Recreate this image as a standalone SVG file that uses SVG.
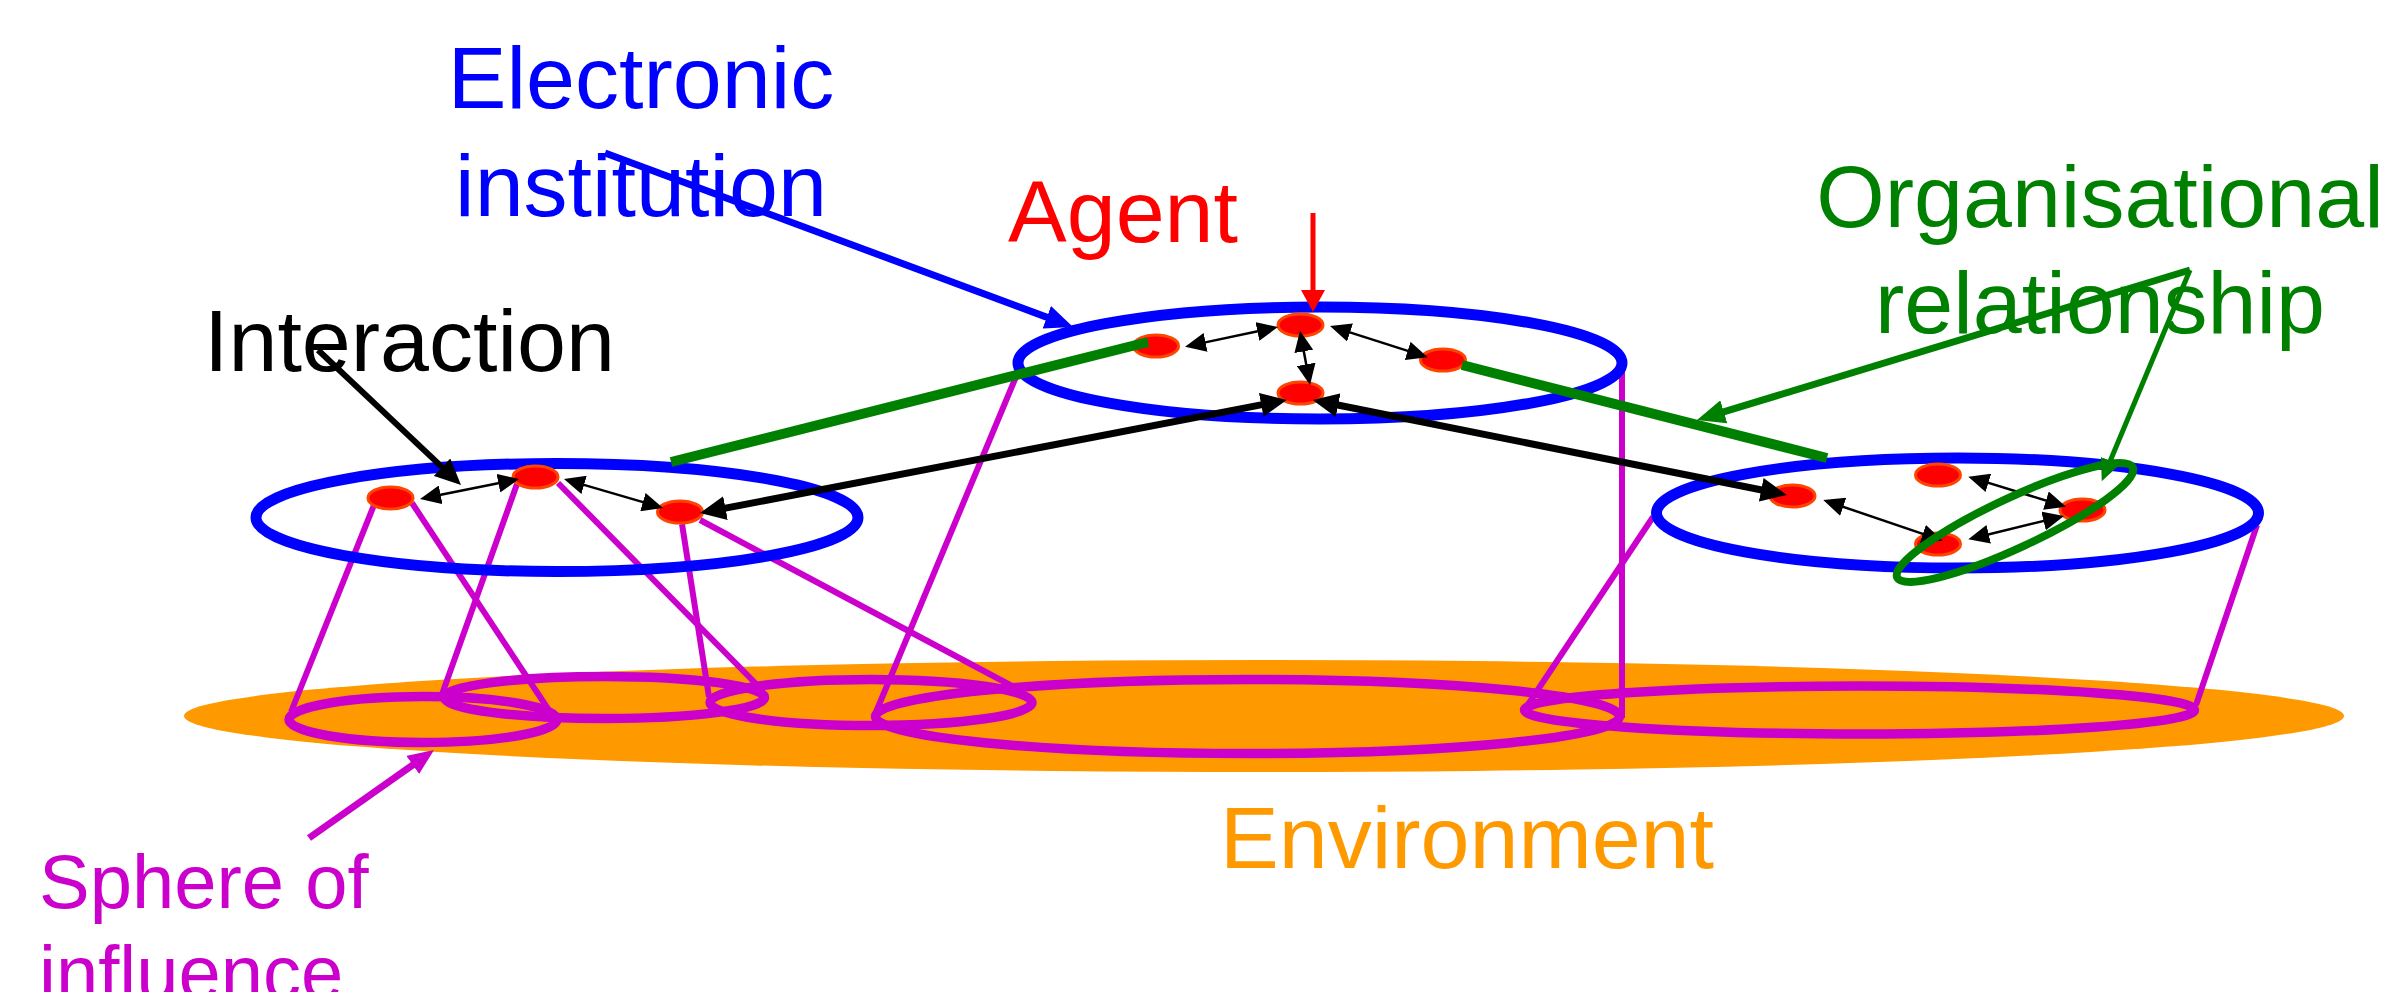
<svg xmlns="http://www.w3.org/2000/svg" width="2398" height="992" viewBox="0 0 2398 992">
  <style>
    .lbl { font-family: "Liberation Sans", Arial, sans-serif; font-size: 88px; }
    .inst { fill: none; stroke: #0000FF; stroke-width: 11; }
    .agent { fill: #FF0000; stroke: #FF4400; stroke-width: 3; }
    .sphere { fill: none; stroke: #CC00CC; stroke-width: 9.5; }
    .side { fill: none; stroke: #CC00CC; stroke-width: 6; }
    .thin { fill: none; stroke: #000; stroke-width: 2.5; marker-start: url(#ah-thin); marker-end: url(#ah-thin); }
    .thick { fill: none; stroke: #000; stroke-width: 7; marker-start: url(#ah-thick); marker-end: url(#ah-thick); }
    .org { fill: none; stroke: #008000; stroke-width: 10; }
  </style>
  <defs>
    <marker id="ah-thin" viewBox="0 0 21 19" refX="10" refY="9.5" markerWidth="21" markerHeight="19" markerUnits="userSpaceOnUse" orient="auto-start-reverse">
      <path d="M0,0 L21,9.5 L0,19 z" fill="#000"/>
    </marker>
    <marker id="ah-thick" viewBox="0 0 26 24" refX="12" refY="12" markerWidth="26" markerHeight="24" markerUnits="userSpaceOnUse" orient="auto-start-reverse">
      <path d="M0,0 L26,12 L0,24 z" fill="#000"/>
    </marker>
    <marker id="ah-blue" viewBox="0 0 28 24" refX="14" refY="12" markerWidth="28" markerHeight="24" markerUnits="userSpaceOnUse" orient="auto">
      <path d="M0,0 L28,12 L0,24 z" fill="#0000FF"/>
    </marker>
    <marker id="ah-red" viewBox="0 0 22 24" refX="11" refY="12" markerWidth="22" markerHeight="24" markerUnits="userSpaceOnUse" orient="auto">
      <path d="M0,0 L22,12 L0,24 z" fill="#FF0000"/>
    </marker>
    <marker id="ah-green" viewBox="0 0 28 24" refX="14" refY="12" markerWidth="28" markerHeight="24" markerUnits="userSpaceOnUse" orient="auto">
      <path d="M0,0 L28,12 L0,24 z" fill="#008000"/>
    </marker>
    <marker id="ah-green-sm" viewBox="0 0 22 20" refX="11" refY="10" markerWidth="22" markerHeight="20" markerUnits="userSpaceOnUse" orient="auto">
      <path d="M0,0 L22,10 L0,20 z" fill="#008000"/>
    </marker>
    <marker id="ah-magenta" viewBox="0 0 26 22" refX="13" refY="11" markerWidth="26" markerHeight="22" markerUnits="userSpaceOnUse" orient="auto">
      <path d="M0,0 L26,11 L0,22 z" fill="#CC00CC"/>
    </marker>
  </defs>

  <rect width="2398" height="992" fill="#FFFFFF"/>

  <!-- ground plane -->
  <g id="environment">
    <ellipse cx="1264" cy="716" rx="1080" ry="56" fill="#FF9900"/>
  </g>

  <!-- spheres of influence on the ground -->
  <g id="spheres">
    <ellipse class="sphere" cx="423" cy="719.5" rx="134" ry="23"/>
    <ellipse class="sphere" cx="604.5" cy="697.5" rx="160" ry="21"/>
    <ellipse class="sphere" cx="871" cy="702.5" rx="161" ry="23"/>
    <ellipse class="sphere" cx="1247.5" cy="716.5" rx="372" ry="37"/>
    <ellipse class="sphere" cx="1859.5" cy="710" rx="335" ry="24"/>
  </g>

  <!-- projection lines down to the ground -->
  <g id="projections">
    <line class="side" x1="374" y1="505" x2="291" y2="712"/>
    <line class="side" x1="412" y1="503" x2="552" y2="715"/>
    <line class="side" x1="517" y1="484" x2="440" y2="700"/>
    <line class="side" x1="558" y1="483" x2="762" y2="690"/>
    <line class="side" x1="682" y1="524" x2="709" y2="697"/>
    <line class="side" x1="700" y1="520" x2="1012" y2="686"/>
    <line class="side" x1="1018" y1="372" x2="876" y2="712"/>
    <line class="side" x1="1622" y1="368" x2="1622" y2="718"/>
    <line class="side" x1="1653" y1="517" x2="1527" y2="706"/>
    <line class="side" x1="2257" y1="525" x2="2196" y2="705"/>
  </g>

  <!-- electronic institutions -->
  <g id="institution-left">
    <ellipse class="inst" cx="557" cy="517.5" rx="301" ry="54"/>
  </g>
  <g id="institution-centre">
    <ellipse class="inst" cx="1320" cy="363" rx="302" ry="56"/>
  </g>
  <g id="institution-right">
    <ellipse class="inst" cx="1957.5" cy="513" rx="301" ry="55"/>
  </g>

  <!-- agents -->
  <g id="agents">
    <ellipse id="agent-l1" class="agent" cx="390.5" cy="498" rx="22.5" ry="11"/>
    <ellipse id="agent-l2" class="agent" cx="535.5" cy="477" rx="22.5" ry="11"/>
    <ellipse id="agent-l3" class="agent" cx="680" cy="512" rx="22.5" ry="11"/>
    <ellipse id="agent-c1" class="agent" cx="1156" cy="346" rx="22.5" ry="11"/>
    <ellipse id="agent-c2" class="agent" cx="1300.5" cy="325" rx="22.5" ry="11"/>
    <ellipse id="agent-c3" class="agent" cx="1443" cy="360" rx="22.5" ry="11"/>
    <ellipse id="agent-c4" class="agent" cx="1300.5" cy="393" rx="22.5" ry="11"/>
    <ellipse id="agent-r1" class="agent" cx="1792.5" cy="496" rx="22.5" ry="11"/>
    <ellipse id="agent-r2" class="agent" cx="1938" cy="475" rx="22.5" ry="11"/>
    <ellipse id="agent-r3" class="agent" cx="2082.5" cy="510" rx="22.5" ry="11"/>
    <ellipse id="agent-r4" class="agent" cx="1938" cy="544" rx="22.5" ry="11"/>
  </g>

  <!-- interactions and organisational links -->
  <g id="connectors">
    <line class="org" x1="671" y1="462" x2="1148" y2="342"/>
    <line class="org" x1="1462" y1="365" x2="1827" y2="458"/>

    <line class="thin" x1="430.8" y1="496.8" x2="508.2" y2="481.2"/>
    <line class="thin" x1="574.5" y1="482.1" x2="652.5" y2="504.9"/>
    <line class="thin" x1="1195.8" y1="344.4" x2="1267.2" y2="329.3"/>
    <line class="thin" x1="1340.5" y1="329.4" x2="1417.2" y2="353.9"/>
    <line class="thin" x1="1302" y1="341.5" x2="1308" y2="374.2"/>
    <line class="thin" x1="1833.7" y1="503.6" x2="1932.3" y2="537.1"/>
    <line class="thin" x1="1978.8" y1="479.9" x2="2055.5" y2="503.5"/>
    <line class="thin" x1="1979" y1="536.7" x2="2053.3" y2="518.6"/>

    <line class="thick" x1="713.7" y1="510.4" x2="1273" y2="402.6"/>
    <line class="thick" x1="1326.4" y1="402.8" x2="1773" y2="492.2"/>
  </g>

  <!-- organisational relationship grouping -->
  <g id="relationship-group">
    <ellipse cx="2015" cy="522.5" rx="130" ry="25" transform="rotate(-25 2015 522.5)" fill="none" stroke="#008000" stroke-width="8"/>
  </g>

  <!-- labels -->
  <g id="label-institution">
    <text class="lbl" x="641" y="108" text-anchor="middle" fill="#0000FF">Electronic</text>
    <text class="lbl" x="641" y="216" text-anchor="middle" fill="#0000FF">institution</text>
    <line x1="605" y1="153" x2="1059.9" y2="322.1" stroke="#0000FF" stroke-width="7" marker-end="url(#ah-blue)"/>
  </g>
  <g id="label-agent">
    <text class="lbl" x="1008" y="242" fill="#FF0000">Agent</text>
    <line x1="1313" y1="213" x2="1313" y2="301" stroke="#FF0000" stroke-width="5" marker-end="url(#ah-red)"/>
  </g>
  <g id="label-interaction">
    <text class="lbl" x="204" y="371" fill="#000000">Interaction</text>
    <line x1="318" y1="350" x2="450.8" y2="475.4" stroke="#000" stroke-width="6" marker-end="url(#ah-thick)"/>
  </g>
  <g id="label-relationship">
    <text class="lbl" x="2100" y="227" text-anchor="middle" fill="#008000">Organisational</text>
    <text class="lbl" x="2100" y="333" text-anchor="middle" fill="#008000">relationship</text>
    <line x1="2190" y1="270" x2="1710.4" y2="415.9" stroke="#008000" stroke-width="7" marker-end="url(#ah-green)"/>
    <line x1="2190" y1="270" x2="2106" y2="471" stroke="#008000" stroke-width="5" marker-end="url(#ah-green-sm)"/>
  </g>
  <g id="label-environment">
    <text class="lbl" x="1220" y="868" fill="#FF9900">Environment</text>
  </g>
  <g id="label-sphere">
    <text class="lbl" x="39" y="908" fill="#CC00CC" style="font-size:76px">Sphere of</text>
    <text class="lbl" x="39" y="999" fill="#CC00CC" style="font-size:76px">influence</text>
    <line x1="309" y1="838" x2="423.4" y2="757.5" stroke="#CC00CC" stroke-width="7" marker-end="url(#ah-magenta)"/>
  </g>
</svg>
